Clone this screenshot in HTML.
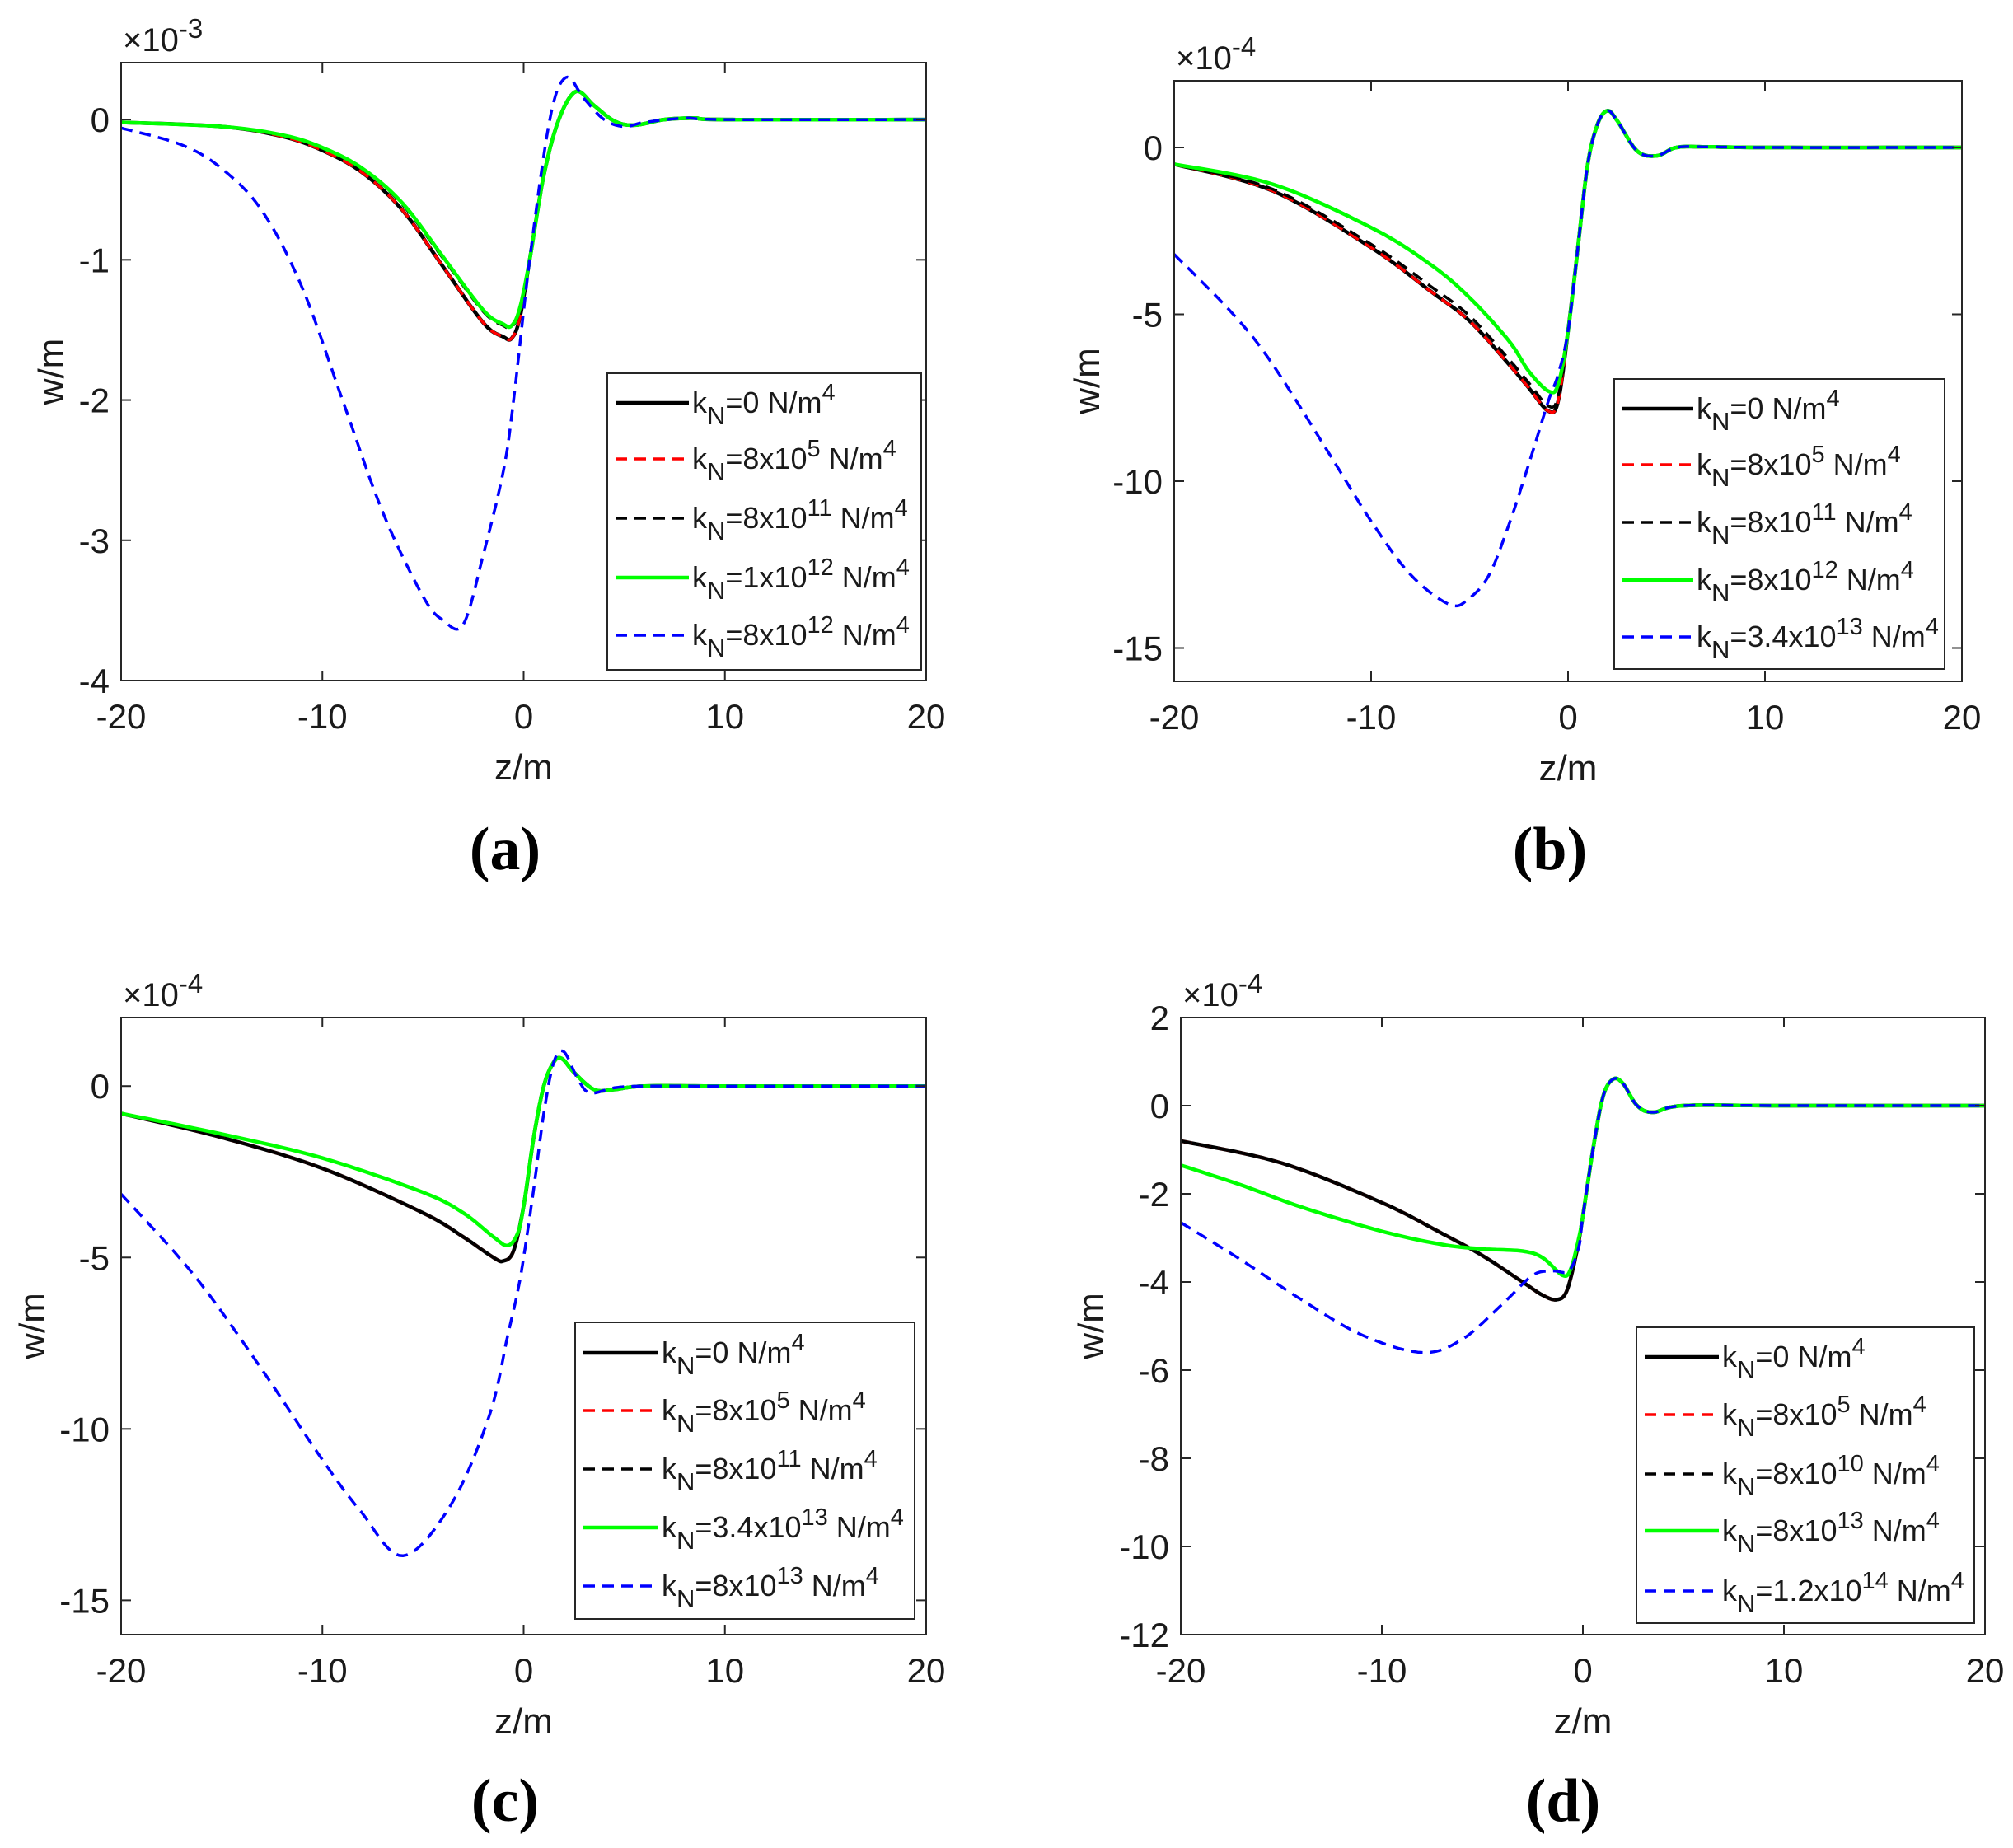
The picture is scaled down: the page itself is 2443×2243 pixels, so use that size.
<!DOCTYPE html>
<html><head><meta charset="utf-8">
<style>
html,body{margin:0;padding:0;background:#fff;}
svg{display:block;}
text{font-family:"Liberation Sans",sans-serif;fill:#1a1a1a;}
</style></head>
<body>
<svg id="s" width="2443" height="2243" viewBox="0 0 2443 2243" xmlns="http://www.w3.org/2000/svg">
<rect width="2443" height="2243" fill="#fff"/>
<g id="g"></g>
<text x="613" y="1055" text-anchor="middle" style="font-family:'Liberation Serif',serif;font-weight:bold;font-size:74px;fill:#000">(a)</text>
<text x="1881" y="1055" text-anchor="middle" style="font-family:'Liberation Serif',serif;font-weight:bold;font-size:74px;fill:#000">(b)</text>
<text x="613" y="2210" text-anchor="middle" style="font-family:'Liberation Serif',serif;font-weight:bold;font-size:74px;fill:#000">(c)</text>
<text x="1897" y="2210" text-anchor="middle" style="font-family:'Liberation Serif',serif;font-weight:bold;font-size:74px;fill:#000">(d)</text>
</svg>
<script>
const NS="http://www.w3.org/2000/svg";
const G=document.getElementById('g');
function el(t,a,txt){const e=document.createElementNS(NS,t);for(const k in a)e.setAttribute(k,a[k]);if(txt!==undefined)e.textContent=txt;G.appendChild(e);return e;}
function html(s){G.insertAdjacentHTML('beforeend',s);}
function cr(pts,n){
  const out=[];
  for(let i=0;i<pts.length-1;i++){
    const p0=pts[Math.max(0,i-1)],p1=pts[i],p2=pts[i+1],p3=pts[Math.min(pts.length-1,i+2)];
    for(let t=0;t<n;t++){const s=t/n,s2=s*s,s3=s2*s;
      const f=(a,b,c,d)=>0.5*((2*b)+(-a+c)*s+(2*a-5*b+4*c-d)*s2+(-a+3*b-3*c+d)*s3);
      out.push([f(p0[0],p1[0],p2[0],p3[0]),f(p0[1],p1[1],p2[1],p3[1])]);}
  }
  out.push(pts[pts.length-1]);return out;
}
function panel(P){
  const X=z=>P.l+(z+20)/40*(P.r-P.l);
  const Y=v=>P.t+(P.ymax-v)/(P.ymax-P.ymin)*(P.b-P.t);
  for(const c of P.curves){
    const pts=cr(c.d,12).map(p=>[X(p[0]),Y(p[1])]);
    const d='M'+pts.map(p=>p[0].toFixed(1)+','+p[1].toFixed(1)).join('L');
    const a={d:d,fill:'none',stroke:c.col,'stroke-width':c.dash?3.5:4.5,'stroke-linejoin':'round'};
    if(c.dash)a['stroke-dasharray']='14 9';
    el('path',a);
  }
  el('rect',{x:P.l,y:P.t,width:P.r-P.l,height:P.b-P.t,fill:'none',stroke:'#262626','stroke-width':2});
  for(let z=-20;z<=20;z+=10){const x=X(z);
    el('line',{x1:x,y1:P.b,x2:x,y2:P.b-12,stroke:'#262626','stroke-width':2});
    el('line',{x1:x,y1:P.t,x2:x,y2:P.t+12,stroke:'#262626','stroke-width':2});
    el('text',{x:x,y:P.b+58,'text-anchor':'middle','font-size':42},String(z));}
  for(const v of P.yt){const y=Y(v);
    el('line',{x1:P.l,y1:y,x2:P.l+12,y2:y,stroke:'#262626','stroke-width':2});
    el('line',{x1:P.r,y1:y,x2:P.r-12,y2:y,stroke:'#262626','stroke-width':2});
    el('text',{x:P.l-14,y:y+15,'text-anchor':'end','font-size':42},String(v));}
  el('text',{x:(P.l+P.r)/2,y:P.b+120,'text-anchor':'middle','font-size':44},'z/m');
  el('text',{x:P.wx,y:(P.t+P.b)/2,'text-anchor':'middle','font-size':44,transform:`rotate(-90 ${P.wx} ${(P.t+P.b)/2})`,dy:15},'w/m');
  html(`<text x="${P.l+2}" y="${P.t-14}" font-size="40">×10<tspan dy="-16" font-size="33">${P.exp}</tspan></text>`);
  const L=P.leg;
  el('rect',{x:L.x,y:L.y,width:L.w,height:L.h,fill:'#fff',stroke:'#262626','stroke-width':2});
  P.curves.forEach((c,i)=>{
    const y=L.rows[i];
    const a={x1:L.x+10,y1:y,x2:L.x+10+L.ll,y2:y,stroke:c.col,'stroke-width':c.dash?3.5:4.5};
    if(c.dash)a['stroke-dasharray']='14 9';
    el('line',a);
    const tx=L.x+14+L.ll;
    html(`<text x="${tx}" y="${y+12}" font-size="36">k<tspan dy="14" font-size="31">N</tspan><tspan dy="-14">=${c.m}${c.e?`<tspan dy="-15" font-size="29">${c.e}</tspan><tspan dy="15"> N/m</tspan>`:' N/m'}<tspan dy="-15" font-size="29">4</tspan></tspan></text>`);
  });
}
const tailA=[[0.3,-1.0],[1,-0.4],[1.75,0],[2.6,0.2],[3.5,0.1],[4.5,-0.01],[5.5,-0.04],[7,0.0],[8.5,0.01],[10,0],[20,0]];
panel({l:147,r:1124,t:76,b:826,ymin:-4,ymax:0.406,yt:[0,-1,-2,-3,-4],exp:'-3',wx:62,
 leg:{x:737,y:453,w:381,h:360,ll:89,rows:[489,557,629,701,771]},
 curves:[
 {col:'#000',m:'0',e:'',d:[[-20,-0.02],[-15,-0.05],[-12,-0.12],[-10,-0.22],[-8,-0.38],[-6,-0.65],[-4,-1.05],[-2,-1.45],[-1,-1.55],[-0.6,-1.56],[-0.2,-1.42]].concat(tailA)},
 {col:'#f00',dash:1,m:'8x10',e:'5',d:[[-20,-0.02],[-15,-0.05],[-12,-0.12],[-10,-0.22],[-8,-0.38],[-6,-0.65],[-4,-1.05],[-2,-1.45],[-1,-1.55],[-0.6,-1.56],[-0.2,-1.42]].concat(tailA)},
 {col:'#000',dash:1,m:'8x10',e:'11',d:[[-20,-0.02],[-15,-0.05],[-12,-0.11],[-10,-0.2],[-8,-0.35],[-6,-0.61],[-4,-0.99],[-2,-1.37],[-1,-1.47],[-0.6,-1.48],[-0.2,-1.36]].concat(tailA)},
 {col:'#0f0',m:'1x10',e:'12',d:[[-20,-0.02],[-15,-0.05],[-12,-0.11],[-10,-0.2],[-8,-0.35],[-6,-0.6],[-4,-0.98],[-2,-1.36],[-1,-1.46],[-0.6,-1.47],[-0.2,-1.35]].concat(tailA)},
 {col:'#00f',dash:1,m:'8x10',e:'12',d:[[-20,-0.06],[-17,-0.18],[-15,-0.35],[-13,-0.65],[-11,-1.2],[-9,-2.0],[-7,-2.8],[-5,-3.4],[-4,-3.57],[-3,-3.6],[-2,-3.1],[-1,-2.5],[-0.5,-2.0],[0.3,-1.0],[1.3,0.0],[2.1,0.3],[3,0.15],[4,0.0],[5,-0.05],[6,-0.02],[8,0.01],[10,0],[20,0]]}
 ]});
const tailB=[[0,-5.5],[0.5,-3],[1,-0.5],[1.5,0.7],[2,1.1],[2.5,0.8],[3.5,-0.1],[4.5,-0.25],[5.5,0],[7,0.02],[10,0],[20,0]];
const bk=[[-20,-0.5],[-15,-1.3],[-10,-3.0],[-7,-4.3],[-5,-5.2],[-3,-6.5],[-2,-7.2],[-1,-7.9],[-0.5,-7.6]];
panel({l:1425,r:2381,t:98,b:827,ymin:-16,ymax:2,yt:[0,-5,-10,-15],exp:'-4',wx:1319,
 leg:{x:1959,y:460,w:401,h:352,ll:86,rows:[496,564,634,704,773]},
 curves:[
 {col:'#000',m:'0',e:'',d:bk.concat(tailB)},
 {col:'#f00',dash:1,m:'8x10',e:'5',d:bk.concat(tailB)},
 {col:'#000',dash:1,m:'8x10',e:'11',d:[[-20,-0.5],[-15,-1.25],[-10,-2.9],[-7,-4.15],[-5,-5.05],[-3,-6.35],[-2,-7.05],[-1,-7.75],[-0.5,-7.45]].concat(tailB)},
 {col:'#0f0',m:'8x10',e:'12',d:[[-20,-0.5],[-15,-1.1],[-10,-2.4],[-7,-3.5],[-5,-4.5],[-3,-5.8],[-2,-6.7],[-1,-7.3],[-0.5,-7.1]].concat(tailB)},
 {col:'#00f',dash:1,m:'3.4x10',e:'13',d:[[-20,-3.2],[-17,-5],[-15,-6.5],[-12,-9.3],[-10,-11.2],[-8,-12.8],[-6,-13.7],[-5,-13.5],[-4,-12.8],[-3,-11.3],[-2,-9.5],[-1,-7.6],[-0.5,-6.8]].concat(tailB)}
 ]});
const tailC=[[0,-3.5],[0.5,-1.5],[1,0],[1.5,0.7],[1.9,0.8],[2.5,0.4],[3.5,-0.1],[4.5,-0.1],[6,0],[10,0],[20,0]];
const bc=[[-20,-0.8],[-15,-1.5],[-10,-2.4],[-5,-3.7],[-3,-4.4],[-1.5,-5.0],[-1,-5.1],[-0.5,-4.8]];
panel({l:147,r:1124,t:1235,b:1984,ymin:-16,ymax:2,yt:[0,-5,-10,-15],exp:'-4',wx:39,
 leg:{x:698,y:1605,w:412,h:360,ll:91,rows:[1642,1712,1783,1854,1925]},
 curves:[
 {col:'#000',m:'0',e:'',d:bc.concat(tailC)},
 {col:'#f00',dash:1,m:'8x10',e:'5',d:bc.concat(tailC)},
 {col:'#000',dash:1,m:'8x10',e:'11',d:bc.concat(tailC)},
 {col:'#0f0',m:'3.4x10',e:'13',d:[[-20,-0.8],[-15,-1.4],[-10,-2.1],[-5,-3.1],[-3,-3.7],[-1.5,-4.4],[-0.8,-4.65],[-0.3,-4.3]].concat(tailC)},
 {col:'#00f',dash:1,m:'8x10',e:'13',d:[[-20,-3.15],[-16.4,-5.5],[-13.2,-8.1],[-10,-10.9],[-8.1,-12.4],[-6,-13.7],[-3.6,-12.2],[-1.7,-9.6],[-0.8,-7.3],[-0.3,-6.0],[0,-5.0],[0.5,-3.0],[1,-0.8],[1.5,0.7],[2,1.0],[2.7,0.2],[3.3,-0.2],[4.5,-0.05],[6,0],[10,0],[20,0]]}
 ]});
const tailD=[[0,-2.5],[0.5,-1.0],[1,0.2],[1.5,0.6],[2,0.5],[2.7,0.0],[3.5,-0.15],[5,0],[10,0],[20,0]];
const bd=[[-20,-0.8],[-15,-1.3],[-10,-2.2],[-7,-2.9],[-5,-3.4],[-3,-4.0],[-2,-4.3],[-1.3,-4.4],[-0.8,-4.2],[-0.3,-3.3]];
panel({l:1433,r:2409,t:1235,b:1984,ymin:-12,ymax:2,yt:[2,0,-2,-4,-6,-8,-10,-12],exp:'-4',wx:1324,
 leg:{x:1986,y:1611,w:410,h:359,ll:90,rows:[1647,1717,1789,1858,1931]},
 curves:[
 {col:'#000',m:'0',e:'',d:bd.concat(tailD)},
 {col:'#f00',dash:1,m:'8x10',e:'5',d:bd.concat(tailD)},
 {col:'#000',dash:1,m:'8x10',e:'10',d:bd.concat(tailD)},
 {col:'#0f0',m:'8x10',e:'13',d:[[-20,-1.35],[-17,-1.8],[-14,-2.3],[-10,-2.85],[-7,-3.15],[-5,-3.25],[-3,-3.3],[-2,-3.45],[-1,-3.85],[-0.6,-3.7],[-0.2,-3.0]].concat(tailD)},
 {col:'#00f',dash:1,m:'1.2x10',e:'14',d:[[-20,-2.65],[-17,-3.5],[-14,-4.4],[-11,-5.2],[-8,-5.6],[-6,-5.3],[-4,-4.5],[-2.5,-3.85],[-1.5,-3.75],[-0.7,-3.75],[-0.2,-3.2]].concat(tailD)}
 ]});
</script>
</body></html>
